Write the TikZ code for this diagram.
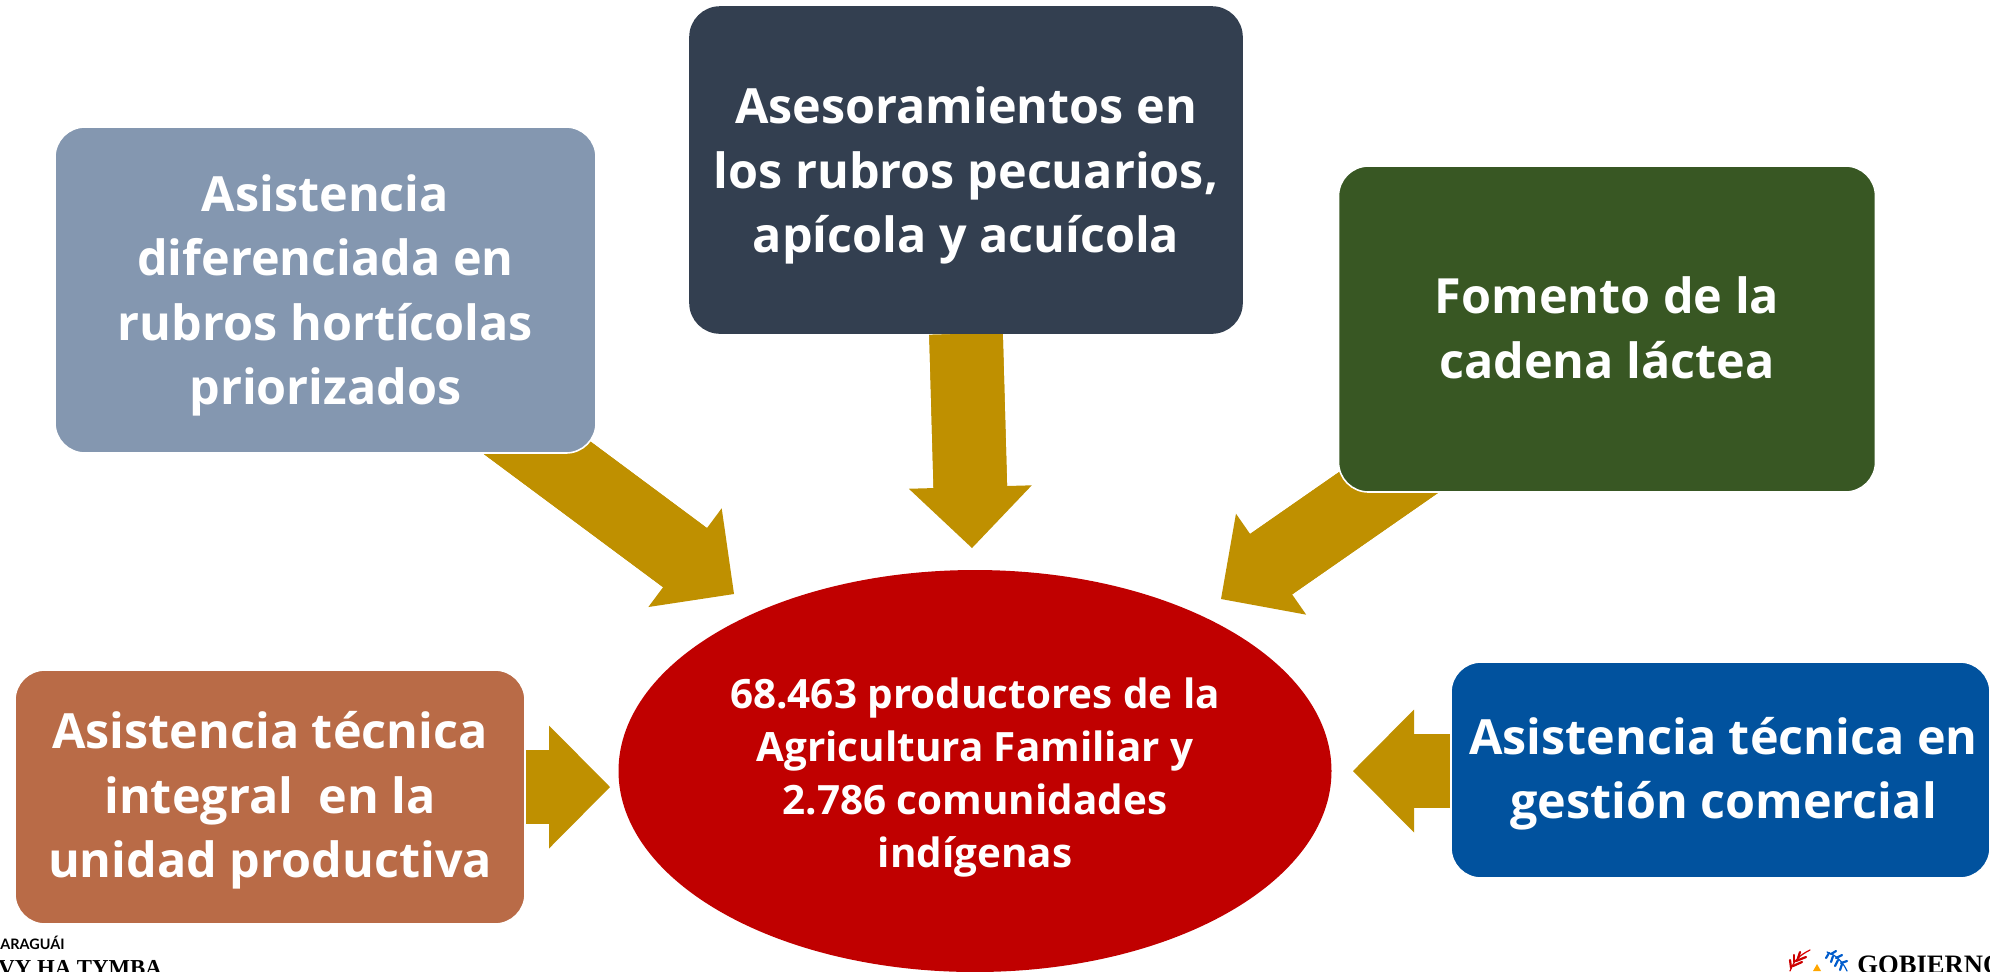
\documentclass[tikz,border=0pt]{standalone}
\usepackage{fontspec}
\setmainfont{Open Sans}
\newfontfamily\logoserif{Liberation Serif}
\newfontfamily\logosans{Lato}
\usetikzlibrary{shapes.geometric,arrows.meta,backgrounds,calc}
\definecolor{gold}{HTML}{BF9000}
\definecolor{slateblue}{HTML}{8497B0}
\definecolor{navy}{HTML}{333F50}
\definecolor{moss}{HTML}{385723}
\definecolor{clay}{HTML}{B96B47}
\definecolor{royal}{HTML}{01529E}
\definecolor{crimson}{HTML}{C00000}
% first-line and last-line struts: baseline block sits #1 below the node centre
\newcommand{\topfix}[1]{\rule{0pt}{\dimexpr 22pt+2\dimexpr #1\relax\relax}}
\newcommand{\botfix}{\rule[-22pt]{0pt}{22pt}}
\tikzset{
  card/.style={rectangle,rounded corners=15pt,draw=white,line width=0.8pt,text=white,inner sep=0pt,align=center,
    font=\fontsize{24.25}{32.3}\selectfont\bfseries},
  hub/.style={ellipse,fill=crimson,text=white,inner sep=0pt,align=center,minimum width=356.5pt,minimum height=201pt,
    font=\fontsize{20.2}{26.4}\selectfont\bfseries},
  flow/.style={draw=gold,line width=36.8pt,-{Triangle[length=30.5pt,width=61.5pt,line width=0pt,fill=gold]},
    postaction={draw=gold,-,shorten >=29pt}},
  logotext/.style={inner sep=0pt,anchor=base west,text=black},
  leaf/.style={line width=1.1pt,line cap=round},
}
\begin{document}
\begin{tikzpicture}[x=0.5pt,y=-0.5pt]
\useasboundingbox (0,0) rectangle (1990,971);
\node[card,fill=slateblue,minimum width=270.5pt,minimum height=163pt] (b1) at (325.5,290) {\topfix{9pt}Asistencia\\diferenciada en\\rubros hortícolas\\priorizados\botfix};
\node[card,fill=navy,draw=navy,minimum width=276pt,minimum height=163pt] (b2) at (966,170) {\topfix{9pt}Asesoramientos en\\los rubros pecuarios,\\apícola y acuícola\botfix};
\node[card,fill=moss,minimum width=268.5pt,minimum height=163pt] (b3) at (1607,329) {\topfix{8.5pt}Fomento de la\\cadena láctea\botfix};
\node[card,fill=clay,minimum width=255pt,minimum height=127pt] (b4) at (270,797) {\topfix{8pt}Asistencia técnica\\integral~ en la\\unidad productiva\botfix};
\node[card,fill=royal,minimum width=269.5pt,minimum height=108pt] (b5) at (1720.5,770) {\topfix{8.3pt}\hspace*{3pt}Asistencia técnica en\\\hspace*{3pt}gestión comercial\botfix};
\node[hub] (hub) at (975,771) {\topfix{8.5pt}68.463 productores de la\\Agricultura Familiar y\\2.786 comunidades\\indígenas\botfix};
\coordinate (t1) at (734,594);
\coordinate (t2) at (972,548);
\coordinate (t3) at (1221,599);
\coordinate (t4) at (610,787);
\coordinate (t5) at (1353,771);
\begin{scope}[on background layer]
\draw[flow] ([shift={(-96,-33)}]b1.south east) -- (t1);
\draw[flow] (b2.south) -- (t2);
\draw[flow] ([shift={(82,-32)}]b3.south west) -- (t3);
\draw[flow] (b4.east |- t4) -- (t4);
\draw[flow] (b5.west |- t5) -- (t5);
\end{scope}
\node[logotext,font=\logosans\fontsize{7.2}{8}\selectfont\bfseries] (l1) at (0,949.5) {ARAGUÁI};
\node[logotext,font=\logoserif\fontsize{11.4}{13}\selectfont\bfseries] (l2) at (-2,975) {VY HA TYMBA};
\node[logotext,font=\logoserif\fontsize{13.3}{15}\selectfont\bfseries] (l3) at (1857,973) {GOBIERNO};
% emblem fragment
\draw[leaf,draw=red!85!black,line width=0.6pt] (1790,971) .. controls (1794,960) and (1800,955) .. (1810,950);
\foreach \a/\b/\c/\d in {1791/968/1790/960,1794/962/1794/955,1798/958/1800/952,1793/966/1802/962,1796/961/1806/957}
  \draw[leaf,draw=red!80!black] (\a,\b) -- (\c,\d);
\fill[orange!70!yellow] (1813,971) -- (1817,964) -- (1821,971) -- cycle;
\draw[leaf,draw=blue!55!cyan!80!black,line width=0.6pt] (1827,952) .. controls (1836,955) and (1843,962) .. (1847,971);
\foreach \a/\b/\c/\d in {1829/953/1826/958,1833/956/1831/962,1838/960/1835/966,1842/964/1840/970,1831/954/1836/951,1836/958/1842/955,1841/963/1847/961}
  \draw[leaf,draw=blue!55!cyan!80!black] (\a,\b) -- (\c,\d);
\end{tikzpicture}
\end{document}
